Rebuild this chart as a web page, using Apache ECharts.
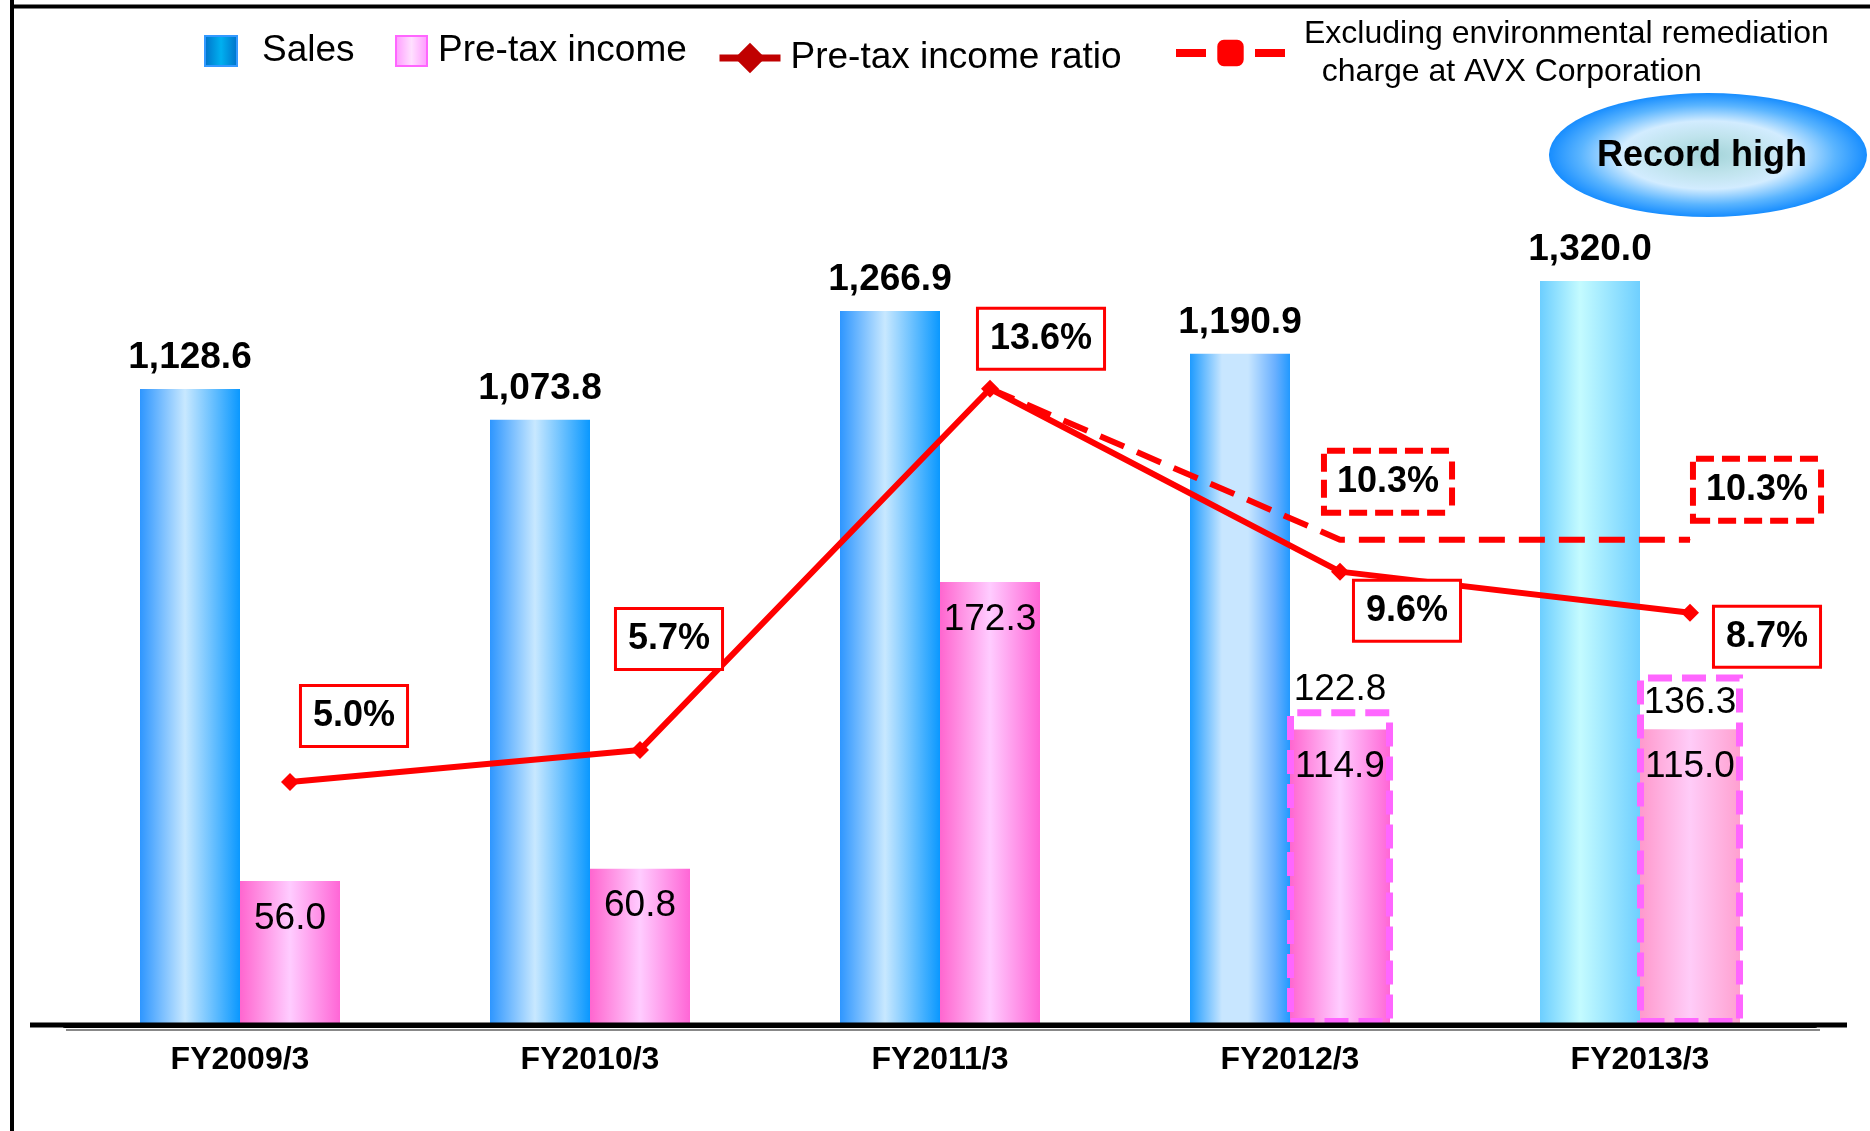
<!DOCTYPE html>
<html>
<head>
<meta charset="utf-8">
<title>Sales / Pre-tax income</title>
<script src="https://cdn.jsdelivr.net/npm/echarts@6/dist/echarts.min.js"></script>
<style>
  html, body { margin: 0; padding: 0; background: #fff; }
  #chart { width: 1870px; height: 1131px; }
</style>
</head>
<body>
<div id="chart"></div>
<script>
const categories = ['FY2009/3', 'FY2010/3', 'FY2011/3', 'FY2012/3', 'FY2013/3'];
const sales = [1128.6, 1073.8, 1266.9, 1190.9, 1320.0];
const preTaxIncome = [56.0, 60.8, 172.3, 114.9, 115.0];
const preTaxExcluding = [null, null, null, 122.8, 136.3];
const incomeRatio = [5.0, 5.7, 13.6, 9.6, 8.7];
const ratioExcluding = [null, null, 13.6, 10.3, 10.3];

// where the % boxes sit relative to their point (px)
const ratioOffsets = [[64, -66], [29, -111], [51, -50], [67, 39], [77, 24]];
const exclOffsets = [null, null, null, [48, -58], [67, -50]];

const FONT = '"Liberation Sans", Arial, sans-serif';
const EXCL_NAME = 'Excluding environmental remediation charge at AVX Corporation';

function hGrad(stops) {
  return new echarts.graphic.LinearGradient(0, 0, 1, 0,
    stops.map(s => ({ offset: s[0], color: s[1] })));
}
const salesGrad = hGrad([[0, '#2E96FF'], [0.45, '#C8E8FF'], [1, '#0A98FF']]);
const salesGrad2012 = hGrad([[0, '#1E9BFF'], [0.32, '#C8E6FF'], [0.58, '#C8E6FF'], [0.85, '#6AB0FF'], [1, '#2299FF']]);
const salesGradRecord = hGrad([[0, '#6CCEFF'], [0.4, '#C4FBFF'], [1, '#6FCFFF']]);
const pinkGrad = hGrad([[0, '#FF66CF'], [0.5, '#FFCCFF'], [1, '#FF66D6']]);
const pinkGradLight = hGrad([[0, '#FF99CC'], [0.5, '#FFCCF8'], [1, '#FFA0D0']]);
const salesIcon = hGrad([[0, '#0070C8'], [0.5, '#00B0F0'], [1, '#0070C8']]);
const pinkIcon = hGrad([[0, '#FF99FF'], [0.5, '#FFE0FF'], [1, '#FF99FF']]);

function fmtThousands(v) {
  return v.toFixed(1).replace(/\B(?=(\d{3})+(?!\d))/g, ',');
}

let myChart = echarts.init(document.getElementById('chart'));

const legendText = { color: '#000', fontSize: 37, fontFamily: FONT, lineHeight: 40 };

myChart.setOption({
  animation: false,
  backgroundColor: '#fff',
  legend: [
    {
      data: [{ name: 'Sales', icon: 'rect', itemStyle: { color: salesIcon, borderColor: '#3399FF', borderWidth: 2 } }],
      left: 204, top: 31, padding: 0, itemWidth: 32, itemHeight: 30, selectedMode: false,
      textStyle: Object.assign({}, legendText, { padding: [0, 0, 0, 20] })
    },
    {
      data: [{ name: 'Pre-tax income', icon: 'rect', itemStyle: { color: pinkIcon, borderColor: '#FF66FF', borderWidth: 2 } }],
      left: 395, top: 31, padding: 0, itemWidth: 31, itemHeight: 30, selectedMode: false,
      textStyle: Object.assign({}, legendText, { padding: [0, 0, 0, 6] })
    },
    {
      data: [{ name: 'Pre-tax income ratio', itemStyle: { color: '#C00000' }, lineStyle: { color: '#C00000', width: 7 } }],
      left: 716, top: 38, padding: 0, itemWidth: 61, itemHeight: 38, selectedMode: false,
      textStyle: Object.assign({}, legendText, { padding: [0, 0, 0, 5] })
    },
    {
      data: [{ name: EXCL_NAME, itemStyle: { color: '#FF0000' }, lineStyle: { color: '#FF0000', width: 8, type: [30, 49] } }],
      left: 1172, top: 15, padding: 0, itemWidth: 109, itemHeight: 33, selectedMode: false,
      formatter: () => 'Excluding environmental remediation\n  charge at AVX Corporation',
      textStyle: { color: '#000', fontSize: 32, fontFamily: FONT, lineHeight: 38, padding: [0, 0, 0, 14] }
    }
  ],
  grid: [
    { left: 65, right: 55, top: 125, bottom: 106 },
    // same plot shifted half a bar right, so the line sits on the pre-tax bars
    { left: 115, right: 5, top: 125, bottom: 106 }
  ],
  xAxis: [
    {
      type: 'category', gridIndex: 0, data: categories,
      axisTick: { show: false },
      axisLine: { lineStyle: { color: '#000', width: 5 } },
      axisLabel: { color: '#000', fontSize: 32, fontWeight: 'bold', fontFamily: FONT, margin: 19 }
    },
    { type: 'category', gridIndex: 1, data: categories, show: false }
  ],
  yAxis: [
    { type: 'value', gridIndex: 0, min: 0, max: 1597, show: false },
    { type: 'value', gridIndex: 0, min: 0, max: 350, show: false },
    { type: 'value', gridIndex: 1, min: 0, max: 350, show: false },
    { type: 'value', gridIndex: 1, min: -0.317, max: 19.37, show: false }
  ],
  series: [
    {
      name: 'Sales',
      type: 'bar',
      xAxisIndex: 0, yAxisIndex: 0,
      barWidth: 100, barGap: '0%',
      itemStyle: { color: salesGrad },
      label: {
        show: true, position: 'top', distance: 13, color: '#000',
        fontSize: 37, fontWeight: 'bold', fontFamily: FONT,
        formatter: p => fmtThousands(p.value)
      },
      data: sales.map((v, i) => {
        if (i === 3) return { value: v, itemStyle: { color: salesGrad2012 } };
        if (i === 4) return { value: v, itemStyle: { color: salesGradRecord } };
        return v;
      })
    },
    {
      name: 'Pre-tax income',
      type: 'bar',
      xAxisIndex: 0, yAxisIndex: 1,
      barWidth: 100,
      itemStyle: { color: pinkGrad },
      label: {
        show: true, position: 'insideTop', distance: 19, color: '#000',
        fontSize: 37, fontFamily: FONT,
        formatter: p => p.value.toFixed(1)
      },
      data: preTaxIncome.map((v, i) => i === 4 ? { value: v, itemStyle: { color: pinkGradLight } } : v)
    },
    {
      name: 'Pre-tax income (excluding charge)',
      type: 'bar',
      xAxisIndex: 1, yAxisIndex: 2,
      barWidth: 106, z: 3, silent: true,
      itemStyle: { color: 'rgba(0,0,0,0)', borderColor: '#FF66FF', borderWidth: 7, borderType: [24, 10] },
      label: {
        show: true, position: 'top', distance: 1, color: '#000',
        fontSize: 37, fontFamily: FONT,
        formatter: p => p.value == null ? '' : p.value.toFixed(1)
      },
      data: preTaxExcluding.map((v, i) => i === 4 ? { value: v, label: { position: 'insideTop', distance: 10 } } : v)
    },
    {
      name: 'Pre-tax income ratio',
      type: 'line',
      xAxisIndex: 1, yAxisIndex: 3,
      z: 6,
      symbol: 'diamond', symbolSize: 18,
      itemStyle: { color: '#FF0000' },
      lineStyle: { color: '#FF0000', width: 6 },
      label: {
        show: true, position: 'inside', color: '#000',
        fontSize: 36, fontWeight: 'bold', fontFamily: FONT, lineHeight: 40,
        backgroundColor: '#fff', borderColor: '#FF0000', borderWidth: 3, padding: [9, 11],
        formatter: p => p.value.toFixed(1) + '%'
      },
      data: incomeRatio.map((v, i) => ({ value: v, label: { offset: ratioOffsets[i] } }))
    },
    {
      name: EXCL_NAME,
      type: 'line',
      xAxisIndex: 1, yAxisIndex: 3,
      z: 5,
      symbol: 'roundRect', symbolSize: 1,
      itemStyle: { color: '#FF0000' },
      lineStyle: { color: '#FF0000', width: 6, type: [26, 14] },
      label: {
        show: true, position: 'inside', color: '#000',
        fontSize: 36, fontWeight: 'bold', fontFamily: FONT, lineHeight: 40,
        backgroundColor: '#fff', borderColor: '#FF0000', borderWidth: 6, borderType: [18, 8],
        padding: [8, 10],
        formatter: p => p.value == null ? '' : p.value.toFixed(1) + '%'
      },
      data: ratioExcluding.map((v, i) => exclOffsets[i]
        ? { value: v, label: { offset: exclOffsets[i] } }
        : { value: v, label: { show: false } })
    }
  ],
  graphic: [
    { type: 'line', shape: { x1: 12, y1: 6.5, x2: 1870, y2: 6.5 }, style: { stroke: '#000', lineWidth: 4 } },
    { type: 'line', shape: { x1: 12, y1: 0, x2: 12, y2: 1131 }, style: { stroke: '#000', lineWidth: 4 } },
    { type: 'line', shape: { x1: 66, y1: 1030, x2: 1820, y2: 1030 }, style: { stroke: '#888', lineWidth: 2 } },
    { type: 'line', z: 100, shape: { x1: 30, y1: 1025, x2: 1847, y2: 1025 }, style: { stroke: '#000', lineWidth: 5 } },
    {
      type: 'circle', z: 100, x: 1708, y: 155, scaleX: 2.565,
      shape: { cx: 0, cy: 0, r: 62 },
      style: {
        fill: new echarts.graphic.RadialGradient(0.5, 0.5, 0.5, [
          { offset: 0, color: '#A2D3D8' },
          { offset: 0.3, color: '#BFE3EC' },
          { offset: 0.55, color: '#D2ECFF' },
          { offset: 0.8, color: '#5BB5FF' },
          { offset: 1, color: '#178DFF' }
        ])
      }
    },
    {
      type: 'text', z: 101, x: 1702, y: 156,
      style: { text: 'Record high', fill: '#000', font: 'bold 36px ' + FONT, align: 'center', verticalAlign: 'middle' }
    }
  ]
});
</script>
</body>
</html>
